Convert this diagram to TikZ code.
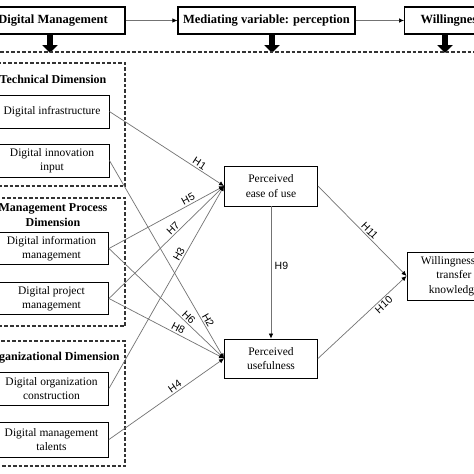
\documentclass[tikz,border=0pt]{standalone}
\usepackage{fontspec}
\setmainfont{Liberation Serif}
\newfontfamily\labelfont{Liberation Sans}
\usetikzlibrary{arrows.meta}
\usetikzlibrary{positioning}
\tikzset{topbox/.style = {draw, line width=1.2pt, font=\bfseries\fontsize{12.5}{14}\selectfont,
                          minimum height=27pt, inner xsep=4pt}}
\tikzset{factor/.style = {draw, line width=0.9pt, align=center, inner sep=1pt,
                          minimum width=114pt, minimum height=32pt, font=\fontsize{11.5}{14.5}\selectfont}}
\tikzset{construct/.style = {factor, minimum width=93pt, minimum height=40pt}}
\tikzset{dimbox/.style = {draw=black!80, line width=1.1pt, dash pattern=on 3.5pt off 2pt}}
\tikzset{dimtitle/.style = {font=\bfseries\fontsize{12}{15}\selectfont, align=center}}
\tikzset{link/.style = {draw=black!55, line width=0.7pt, -{Latex[black, length=5pt, width=4.5pt]}}}
\tikzset{hyp/.style = {font=\labelfont\fontsize{10.5}{11}\selectfont, sloped, above, inner sep=1.5pt}}
\tikzset{bigarrow/.style = {line width=6pt, -{Triangle[width=15pt, length=8pt]}}}

\begin{document}
\begin{tikzpicture}[x=1pt, y=-1pt]
    \useasboundingbox (0, 0) rectangle (474, 474);
    \fill [white] (0, 0) rectangle (474, 474);
    \clip (0, 0) rectangle (474, 474);

    % top row
    \node [topbox, minimum width=144pt] (dm) at (53, 20.5) {Digital Management};
    \node [topbox, minimum width=177pt] (med) at (266.5, 20.5) {Mediating variable: perception};
    \node [topbox, anchor=west, inner xsep=16pt] (wt) at (404, 20.5) {Willingness to transfer knowledge};
    \draw [link] (dm) -- (med);
    \draw [link] (med) -- (wt);

    \coordinate (a1) at (50, 53);
    \coordinate (a2) at (272, 53);
    \coordinate (a3) at (445, 53);
    \draw [bigarrow] (dm.south -| a1) -- (a1);
    \draw [bigarrow] (med.south -| a2) -- (a2);
    \draw [bigarrow] (wt.south -| a3) -- (a3);
    \draw [dimbox] (0, 52) -- (474, 52);

    % dimensions
    \draw [dimbox] (-5, 63) rectangle (125, 186);
    \draw [dimbox] (-5, 198) rectangle (125, 326);
    \draw [dimbox] (-5, 341) rectangle (125, 466);
    \node [dimtitle] (tech) at (53, 79) {Technical Dimension};
    \node [dimtitle] (proc) at (53, 215.5) {Management Process\\Dimension};
    \node [dimtitle] (org) at (52, 358) {Organizational Dimension};

    \node [factor, minimum height=33pt] (infra) at (52, 111.5) {Digital infrastructure};
    \node [factor, minimum height=33pt] (innov) at (52, 160.5) {Digital innovation\\input};
    \node [factor] (info) at (51.5, 248.5) {Digital information\\management};
    \node [factor] (proj) at (51.5, 298.5) {Digital project\\management};
    \node [factor, minimum height=33pt] (orgc) at (51.5, 388.5) {Digital organization\\construction};
    \node [factor, minimum height=35pt] (talent) at (51.5, 439.5) {Digital management\\talents};

    % mediators and outcome
    \node [construct] (ease) at (271, 186) {Perceived\\ease of use};
    \node [construct, minimum height=39pt] (usef) at (271, 358.5) {Perceived\\usefulness};
    \node [construct, minimum width=94pt, minimum height=48pt] (will) at (454, 276) {Willingness to\\transfer\\knowledge};

    \draw [link] (infra.east) -- (ease.west) node [hyp, pos=0.76] {H1};
    \draw [link] (info.east) -- (ease.west) node [hyp, pos=0.71] {H5};
    \draw [link] (proj.east) -- (ease.west) node [hyp, pos=0.59] {H7};
    \draw [link] (orgc.east) -- (ease.west) node [hyp, pos=0.65] {H3};
    \draw [link] (innov.east) -- (usef.west) node [hyp, pos=0.82] {H2};
    \draw [link] (info.east) -- (usef.west) node [hyp, pos=0.66] {H6};
    \draw [link] (proj.east) -- (usef.west) node [hyp, pos=0.58] {H8};
    \draw [link] (talent.east) -- (usef.west) node [hyp, pos=0.6] {H4};
    \draw [link] (ease) -- (usef) node [pos=0.45, right, font=\labelfont\fontsize{10.5}{11}\selectfont] {H9};
    \draw [link] (ease.east) -- (will.west) node [hyp, pos=0.54] {H11};
    \draw [link] (usef.east) -- (will.west) node [hyp, below, pos=0.7] {H10};
\end{tikzpicture}
\end{document}
